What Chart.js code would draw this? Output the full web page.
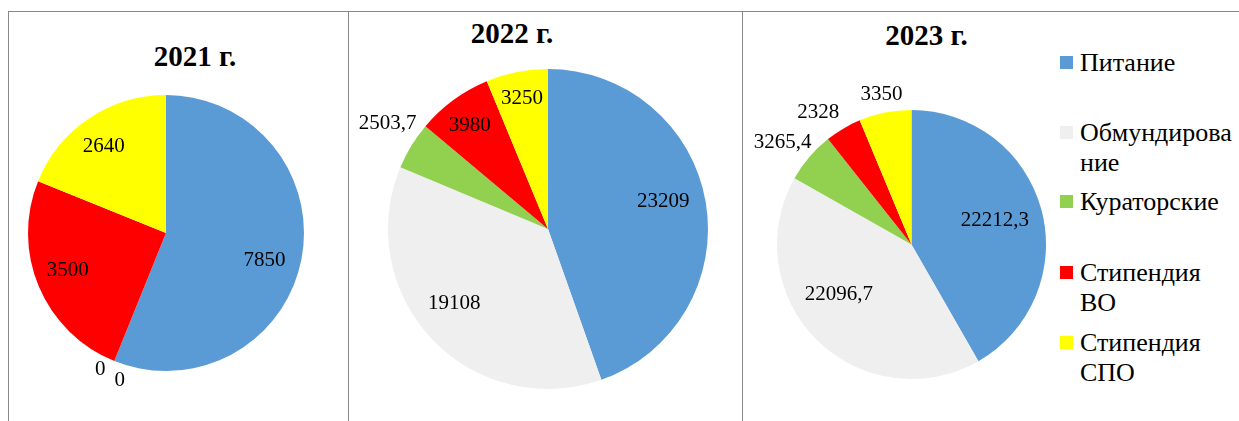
<!DOCTYPE html>
<html lang="ru">
<head>
<meta charset="utf-8">
<script src="https://cdn.jsdelivr.net/npm/chart.js@4.4.1/dist/chart.umd.min.js"></script>
<style>
  body { margin: 0; background: #fff; }
  #wrap { position: relative; width: 1239px; height: 421px; overflow: hidden;
          font-family: "Liberation Serif", "Times New Roman", serif; color: #000; }
  .line { position: absolute; background: #888; z-index: 2; }
  .title { position: absolute; width: 200px; text-align: center; font-weight: bold;
           font-size: 29px; line-height: 29px; white-space: nowrap; }
  canvas { position: absolute; }
  .item { position: absolute; left: 1060px; width: 158px; padding-left: 20px;
          font-size: 26px; line-height: 30px; overflow-wrap: anywhere; }
  .box { position: absolute; left: 0; top: 8px; width: 13px; height: 13px; }
</style>
</head>
<body>
<div id="wrap">
  <div class="line" style="left:8px;top:11px;width:1231px;height:1px"></div>
  <div class="line" style="left:8px;top:11px;width:1px;height:410px"></div>
  <div class="line" style="left:348px;top:11px;width:1px;height:410px"></div>
  <div class="line" style="left:742px;top:11px;width:1px;height:410px"></div>

  <div class="title" id="t0" style="left:95px;top:41.7px"></div>
  <div class="title" id="t1" style="left:412px;top:18.7px"></div>
  <div class="title" id="t2" style="left:826.5px;top:20.7px"></div>

  <canvas id="c0" width="339" height="409" style="left:9px;top:12px"></canvas>
  <canvas id="c1" width="393" height="409" style="left:349px;top:12px"></canvas>
  <canvas id="c2" width="310" height="409" style="left:743px;top:12px"></canvas>

  <div id="legend"></div>
</div>

<script>
// data
const categories = ['Питание', 'Обмундирование', 'Кураторские', 'Стипендия ВО', 'Стипендия СПО'];
const years = ['2021 г.', '2022 г.', '2023 г.'];
const values2021 = [7850, 0, 0, 3500, 2640];
const values2022 = [23209, 19108, 2503.7, 3980, 3250];
const values2023 = [22212.3, 22096.7, 3265.4, 2328, 3350];
const colors = ['#5B9BD5', '#EFEFEF', '#92D050', '#FF0000', '#FFFF00'];

// label placement: [fraction of radius, angle nudge in degrees]
const place2021 = [[0.74, 4.4], [1.10, 3.7], [1.12, -4.6], [0.76, 2.3], [0.775, -1.7]];
const place2022 = [[0.74, -3.5], [0.75, 4.8], [1.20, 2], [0.81, -0.9], [0.83, 0]];
const place2023 = [[0.645, -1.3], [0.654, 10.7], [1.22, -2.3], [1.20, -4.8], [1.14, 0]];

const paddings = [
  { left: 19, top: 83, right: 44, bottom: 50 },
  { left: 39, top: 57, right: 34, bottom: 32 },
  { left: 34, top: 98, right: 7, bottom: 42 }
];

function fmt(v) {
  return String(v).replace('.', ',');
}

// draws the value next to each slice
const valueLabels = {
  id: 'valueLabels',
  afterDatasetsDraw(chart, args, opts) {
    const ctx = chart.ctx;
    const meta = chart.getDatasetMeta(0);
    const values = chart.data.datasets[0].data;
    ctx.save();
    ctx.font = '21px "Liberation Serif", "Times New Roman", serif';
    ctx.fillStyle = '#000';
    ctx.textAlign = 'center';
    ctx.textBaseline = 'middle';
    meta.data.forEach(function (arc, i) {
      const p = opts.place[i];
      const a = (arc.startAngle + arc.endAngle) / 2 + p[1] * Math.PI / 180;
      const r = arc.outerRadius * p[0];
      ctx.fillText(fmt(values[i]), arc.x + Math.cos(a) * r, arc.y + Math.sin(a) * r);
    });
    ctx.restore();
  }
};

function makePie(id, values, place, padding) {
  return new Chart(document.getElementById(id), {
    type: 'pie',
    data: {
      labels: categories,
      datasets: [{
        data: values,
        backgroundColor: colors,
        borderWidth: 0
      }]
    },
    options: {
      responsive: false,
      animation: false,
      layout: { padding: padding },
      plugins: {
        legend: { display: false },
        title: { display: false },
        tooltip: { enabled: false },
        valueLabels: { place: place }
      }
    },
    plugins: [valueLabels]
  });
}

makePie('c0', values2021, place2021, paddings[0]);
makePie('c1', values2022, place2022, paddings[1]);
makePie('c2', values2023, place2023, paddings[2]);

years.forEach(function (y, i) {
  document.getElementById('t' + i).textContent = y;
});

// legend for the last chart
const legendTops = [48, 118, 187, 258, 328];
const legend = document.getElementById('legend');
categories.forEach(function (name, i) {
  const item = document.createElement('div');
  item.className = 'item';
  item.style.top = legendTops[i] + 'px';
  const box = document.createElement('span');
  box.className = 'box';
  box.style.background = colors[i];
  item.appendChild(box);
  item.appendChild(document.createTextNode(name));
  legend.appendChild(item);
});
</script>
</body>
</html>
